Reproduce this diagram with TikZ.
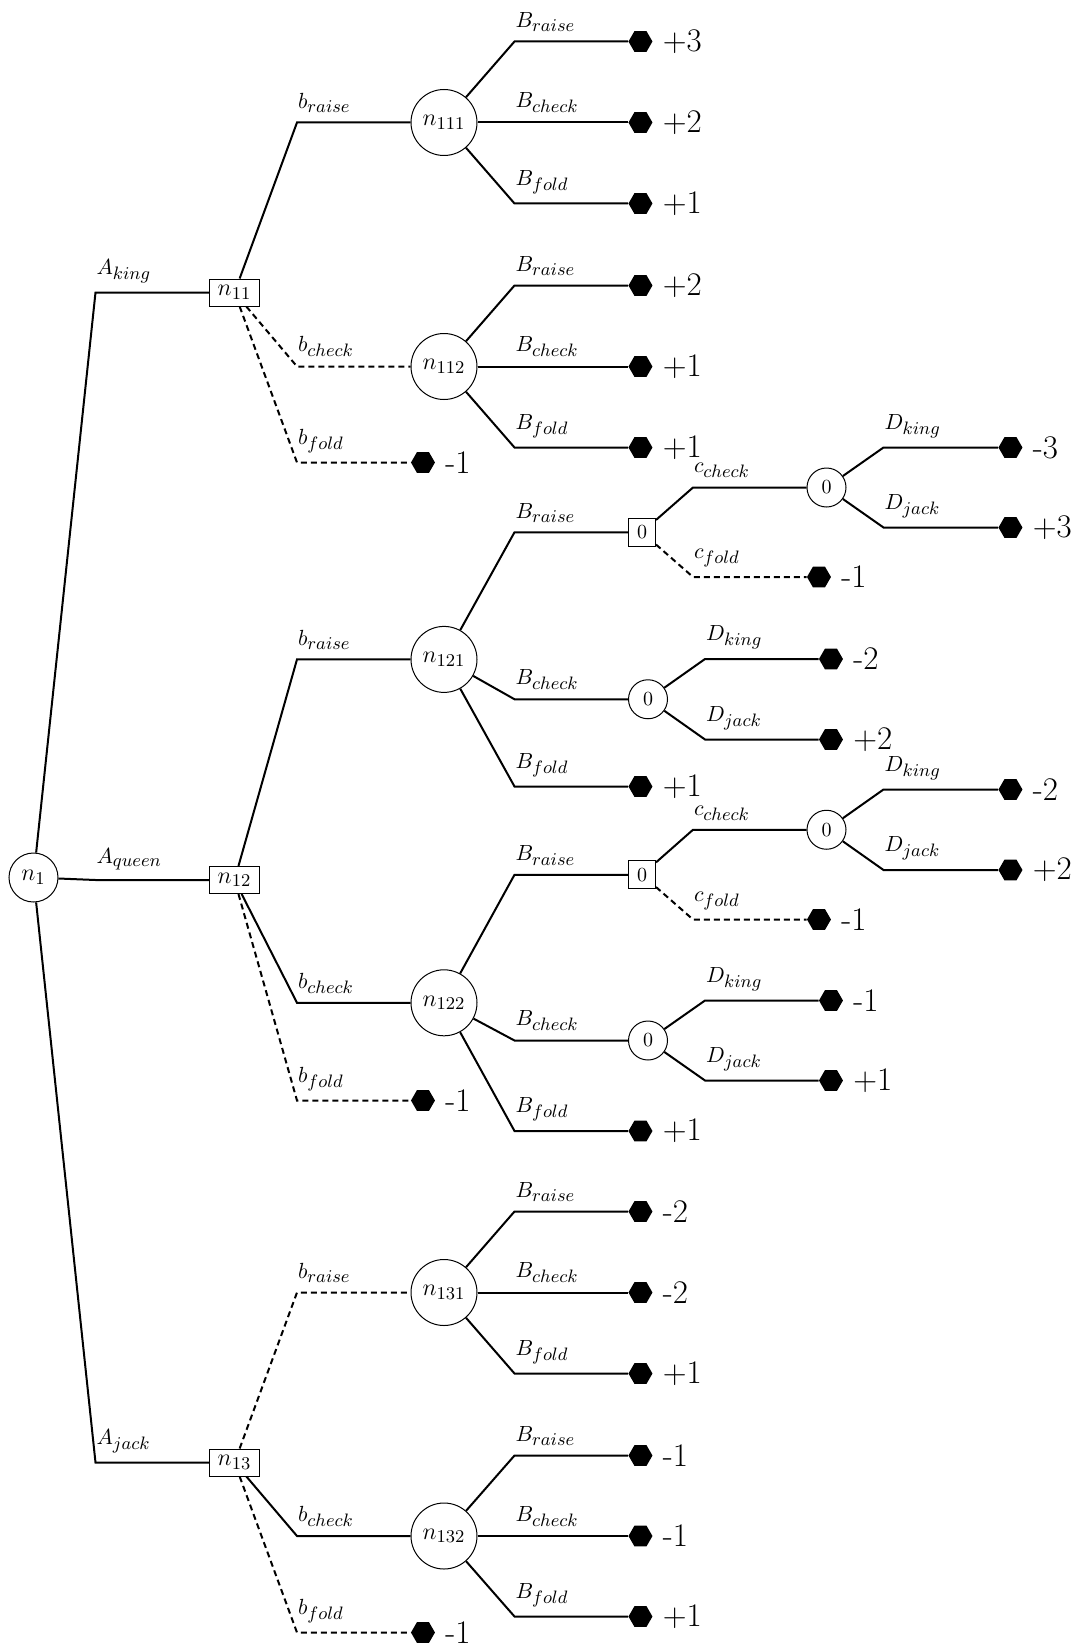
\documentclass[tikz,border=0pt]{standalone}
\usetikzlibrary{calc,shapes.geometric}
\DeclareMathSizes{11}{11}{9}{7}
\newcommand\numfont{\fontsize{16.5}{18}\selectfont}
\newcommand\labfont{\fontsize{11}{13}\selectfont}
\newcommand\nodefont{\fontsize{12.5}{15}\selectfont}
\newcommand\tedge[4]{%
  \draw[#1] (#2) -- ($(#2.east |- #3)+(37,0)$) node[elab]{$#4$} -- (#3);}
\begin{document}
\begin{tikzpicture}[x=0.5pt,y=-0.5pt,
  edge/.style={line width=1pt},
  dashededge/.style={line width=1pt, dash pattern=on 3pt off 2pt},
  chance/.style={circle, draw, line width=0.5pt, inner sep=0pt, minimum size=33pt, font=\nodefont, anchor=west},
  root/.style={chance, minimum size=24.5pt},
  decision/.style={rectangle, draw, line width=0.5pt, inner sep=0pt, minimum width=25pt, minimum height=13.5pt, font=\nodefont, anchor=west},
  zsq/.style={rectangle, draw, line width=0.5pt, inner sep=0pt, minimum width=13.5pt, minimum height=14pt, anchor=west},
  zci/.style={circle, draw, line width=0.5pt, inner sep=0pt, minimum size=19.5pt, anchor=west},
  leaf/.style={regular polygon, regular polygon sides=6, fill=black, inner sep=0pt, minimum size=12pt, anchor=west},
  pay/.style={label={[font=\numfont, inner sep=0.5pt, label distance=4.3pt]right:#1}},
  elab/.style={anchor=south west, inner sep=0pt, yshift=4.3pt, font=\labfont},
]
\useasboundingbox (0,0) rectangle (1076,1648);

% root and first level
\node[root] (n1) at (8.5,877.5) {$n_1$};
\node[decision] (n11) at (209,292.5) {$n_{11}$};
\node[decision] (n12) at (209,880) {$n_{12}$};
\node[decision] (n13) at (209,1462.5) {$n_{13}$};

% second level
\node[chance] (n111) at (410.5,122.5) {$n_{111}$};
\node[chance] (n112) at (410.5,366.5) {$n_{112}$};
\node[leaf,pay=-1] (f11) at (410.5,462.5) {};
\node[chance] (n121) at (410.5,659.4) {$n_{121}$};
\node[chance] (n122) at (410.5,1002.8) {$n_{122}$};
\node[leaf,pay=-1] (f12) at (410.5,1100.5) {};
\node[chance] (n131) at (410.5,1292.5) {$n_{131}$};
\node[chance] (n132) at (410.5,1536) {$n_{132}$};
\node[leaf,pay=-1] (f13) at (410.5,1632.5) {};

% third level
\node[leaf,pay=+3] (l111r) at (628,41.5) {};
\node[leaf,pay=+2] (l111c) at (628,122.5) {};
\node[leaf,pay=+1] (l111f) at (628,203.5) {};
\node[leaf,pay=+2] (l112r) at (628,285.5) {};
\node[leaf,pay=+1] (l112c) at (628,366.5) {};
\node[leaf,pay=+1] (l112f) at (628,447.5) {};
\node[zsq] (s1) at (628,532.25) {0};
\node[zci] (z1) at (628,699.25) {0};
\node[leaf,pay=+1] (l121f) at (628,786.5) {};
\node[zsq] (s2) at (628,874.75) {0};
\node[zci] (z2) at (628,1040.5) {0};
\node[leaf,pay=+1] (l122f) at (628,1131) {};
\node[leaf,pay=-2] (l131r) at (628,1211.5) {};
\node[leaf,pay=-2] (l131c) at (628,1292.5) {};
\node[leaf,pay=+1] (l131f) at (628,1373.5) {};
\node[leaf,pay=-1] (l132r) at (628,1455.5) {};
\node[leaf,pay=-1] (l132c) at (628,1536) {};
\node[leaf,pay=+1] (l132f) at (628,1616.5) {};

% fourth level
\node[zci] (c1) at (806.5,487.5) {0};
\node[leaf,pay=-1] (c1f) at (806.5,577) {};
\node[zci] (c2) at (806.5,829.75) {0};
\node[leaf,pay=-1] (c2f) at (806.5,919.5) {};
\node[leaf,pay=-2] (z1k) at (818.5,659) {};
\node[leaf,pay=+2] (z1j) at (818.5,739.5) {};
\node[leaf,pay=-1] (z2k) at (818.5,1000.5) {};
\node[leaf,pay=+1] (z2j) at (818.5,1080.5) {};

% fifth level
\node[leaf,pay=-3] (c1k) at (998,447.5) {};
\node[leaf,pay=+3] (c1j) at (998,527.5) {};
\node[leaf,pay=-2] (c2k) at (998,789.5) {};
\node[leaf,pay=+2] (c2j) at (998,870) {};

% edges
\tedge{edge}{n1}{n11}{A_{king}}
\tedge{edge}{n1}{n12}{A_{queen}}
\tedge{edge}{n1}{n13}{A_{jack}}

\tedge{edge}{n11}{n111}{b_{raise}}
\tedge{dashededge}{n11}{n112}{b_{check}}
\tedge{dashededge}{n11}{f11}{b_{fold}}
\tedge{edge}{n12}{n121}{b_{raise}}
\tedge{edge}{n12}{n122}{b_{check}}
\tedge{dashededge}{n12}{f12}{b_{fold}}
\tedge{dashededge}{n13}{n131}{b_{raise}}
\tedge{edge}{n13}{n132}{b_{check}}
\tedge{dashededge}{n13}{f13}{b_{fold}}

\tedge{edge}{n111}{l111r}{B_{raise}}
\tedge{edge}{n111}{l111c}{B_{check}}
\tedge{edge}{n111}{l111f}{B_{fold}}
\tedge{edge}{n112}{l112r}{B_{raise}}
\tedge{edge}{n112}{l112c}{B_{check}}
\tedge{edge}{n112}{l112f}{B_{fold}}
\tedge{edge}{n121}{s1}{B_{raise}}
\tedge{edge}{n121}{z1}{B_{check}}
\tedge{edge}{n121}{l121f}{B_{fold}}
\tedge{edge}{n122}{s2}{B_{raise}}
\tedge{edge}{n122}{z2}{B_{check}}
\tedge{edge}{n122}{l122f}{B_{fold}}
\tedge{edge}{n131}{l131r}{B_{raise}}
\tedge{edge}{n131}{l131c}{B_{check}}
\tedge{edge}{n131}{l131f}{B_{fold}}
\tedge{edge}{n132}{l132r}{B_{raise}}
\tedge{edge}{n132}{l132c}{B_{check}}
\tedge{edge}{n132}{l132f}{B_{fold}}

\tedge{edge}{s1}{c1}{c_{check}}
\tedge{dashededge}{s1}{c1f}{c_{fold}}
\tedge{edge}{s2}{c2}{c_{check}}
\tedge{dashededge}{s2}{c2f}{c_{fold}}

\tedge{edge}{c1}{c1k}{D_{king}}
\tedge{edge}{c1}{c1j}{D_{jack}}
\tedge{edge}{c2}{c2k}{D_{king}}
\tedge{edge}{c2}{c2j}{D_{jack}}
\tedge{edge}{z1}{z1k}{D_{king}}
\tedge{edge}{z1}{z1j}{D_{jack}}
\tedge{edge}{z2}{z2k}{D_{king}}
\tedge{edge}{z2}{z2j}{D_{jack}}
\end{tikzpicture}
\end{document}
